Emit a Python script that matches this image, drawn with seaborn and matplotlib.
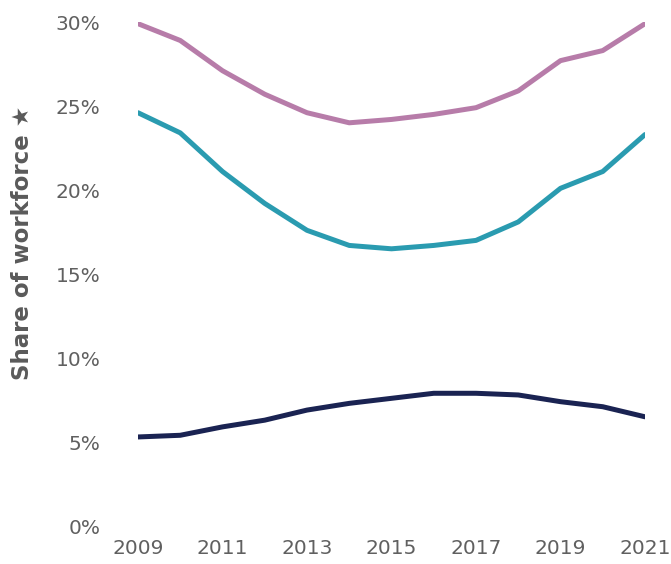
import matplotlib
matplotlib.use("Agg")
import matplotlib.pyplot as plt
import seaborn as sns
import pandas as pd
from matplotlib.ticker import FuncFormatter

years = list(range(2009, 2022))
series_top = [29.9, 28.9, 27.1, 25.7, 24.6, 24.0, 24.2, 24.5, 24.9, 25.9, 27.7, 28.3, 29.9]
series_mid = [24.6, 23.4, 21.1, 19.2, 17.6, 16.7, 16.5, 16.7, 17.0, 18.1, 20.1, 21.1, 23.3]
series_low = [5.3, 5.4, 5.9, 6.3, 6.9, 7.3, 7.6, 7.9, 7.9, 7.8, 7.4, 7.1, 6.5]
series_names = ["Top", "Middle", "Low"]
colors = ["#B77CA9", "#2A9BB0", "#1A2352"]
x_ticks = [2009, 2011, 2013, 2015, 2017, 2019, 2021]
y_ticks = [0, 5, 10, 15, 20, 25, 30]

df = pd.DataFrame({
    "year": years * 3,
    "share": series_top + series_mid + series_low,
    "series": [n for n in series_names for _ in years],
})

sns.set_theme(style="white")
plt.rcParams["font.family"] = ["DejaVu Sans"]

fig = plt.figure(figsize=(6.71, 5.64), dpi=100)
ax = fig.add_axes([138 / 671, 1 - 526 / 564, (645 - 138) / 671, (526 - 22) / 564])

sns.lineplot(data=df, x="year", y="share", hue="series", palette=colors,
             linewidth=3.6, legend=False, ax=ax)
for line in ax.get_lines():
    line.set_solid_capstyle("round")
    line.set_solid_joinstyle("round")

ax.set_xlim(2009, 2021)
ax.set_ylim(0, 30)
ax.set_xticks(x_ticks)
ax.set_yticks(y_ticks)
ax.yaxis.set_major_formatter(FuncFormatter(lambda v, p: f"{v:.0f}%"))
ax.tick_params(axis="x", length=0, pad=9, labelsize=14.5, labelcolor="#606060")
ax.tick_params(axis="y", length=0, pad=27, labelsize=14.5, labelcolor="#606060")
for s in ax.spines.values():
    s.set_visible(False)
ax.grid(False)
ax.set_xlabel("")
ax.set_ylabel("Share of workforce \u2605", fontsize=16.5, fontweight="bold", color="#5a5a5a")
ax.yaxis.set_label_coords(-0.205, 0.5615)

fig.savefig("out.png", dpi=100)
